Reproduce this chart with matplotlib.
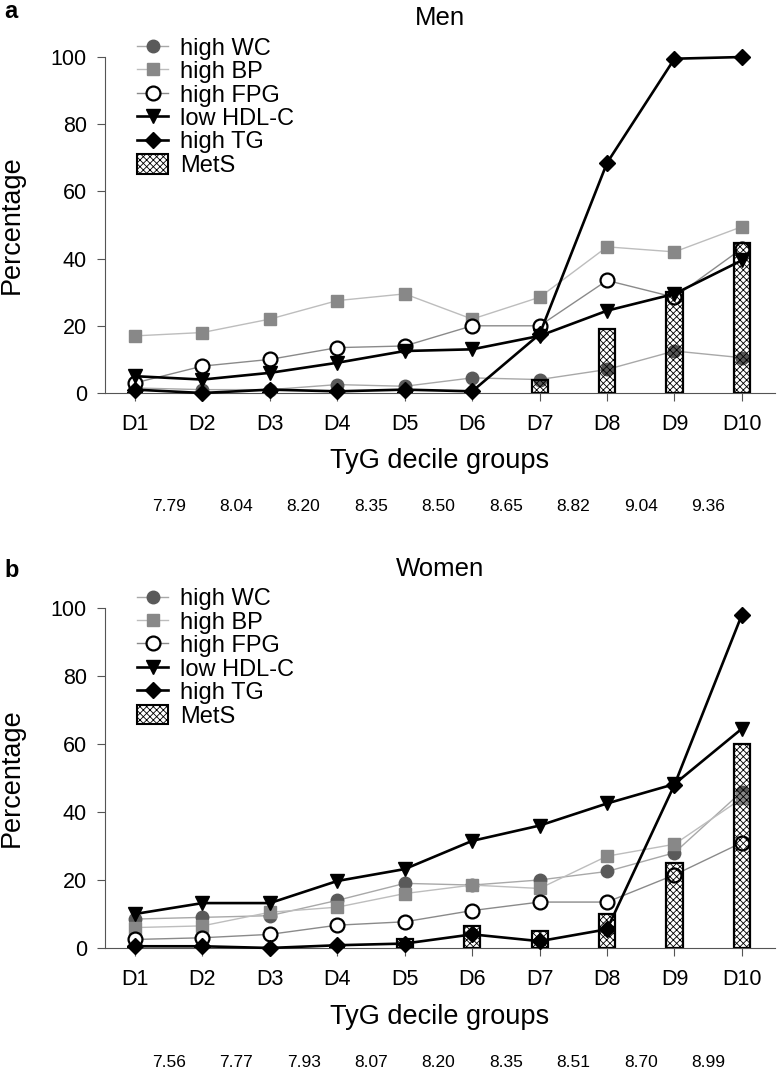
import numpy as np
import matplotlib
matplotlib.use("Agg")
import matplotlib.pyplot as plt
from matplotlib.lines import Line2D
from matplotlib.patches import Patch

plt.rcParams['font.family'] = ['Liberation Sans', 'DejaVu Sans']
plt.rcParams['hatch.linewidth'] = 0.6

deciles = ["D1", "D2", "D3", "D4", "D5", "D6", "D7", "D8", "D9", "D10"]

# Men
men_wc = [1.5, 1, 1, 2.5, 2, 4.5, 4, 7, 12.5, 10.5]
men_bp = [17, 18, 22, 27.5, 29.5, 22, 28.5, 43.5, 42, 49.5]
men_fpg = [3, 8, 10, 13.5, 14, 20, 20, 33.5, 28.5, 43]
men_hdl = [5, 4, 6, 9, 12.5, 13, 17, 24.5, 29.5, 39.5]
men_tg = [1, 0, 1, 0.5, 1, 0.5, 17.5, 68.5, 99.5, 100]
men_mets = [0, 0, 0, 0, 0, 0, 4, 19, 30, 44.5]
men_cuts = ["7.79", "8.04", "8.20", "8.35", "8.50", "8.65", "8.82", "9.04", "9.36"]

# Women
wom_wc = [8.5, 9, 9.5, 14, 19, 18.5, 20, 22.5, 28, 46]
wom_bp = [6, 6.5, 10.5, 12, 16, 18.5, 17.5, 27, 30.5, 44]
wom_fpg = [2.5, 3, 4, 6.7, 7.7, 11, 13.5, 13.5, 21.5, 31]
wom_hdl = [10, 13.2, 13.2, 19.7, 23.2, 31.5, 36, 42.5, 48.2, 64.5]
wom_tg = [0.5, 0.5, 0, 0.8, 1.3, 4, 2, 5.5, 48, 98]
wom_mets = [0, 0, 0, 0, 2.5, 6.5, 5, 10, 25, 60]
wom_cuts = ["7.56", "7.77", "7.93", "8.07", "8.20", "8.35", "8.51", "8.70", "8.99"]

WC_STYLE = dict(color="#a8a8a8", lw=1, marker="o", ms=9, mfc="#5a5a5a", mec="#5a5a5a")
BP_STYLE = dict(color="#bdbdbd", lw=1, marker="s", ms=9, mfc="#888888", mec="#888888")
FPG_STYLE = dict(color="#8a8a8a", lw=1, marker="o", ms=10, mfc="white", mec="black", mew=1.6)
HDL_STYLE = dict(color="black", lw=1.9, marker="v", ms=10, mfc="black", mec="black")
TG_STYLE = dict(color="black", lw=1.9, marker="D", ms=8.5, mfc="black", mec="black")


def draw_panel(ax, wc, bp, fpg, hdl, tg, mets, cuts, title):
    x = np.arange(1, 11)
    ax.plot(x, wc, zorder=3, clip_on=False, **WC_STYLE)
    ax.plot(x, bp, zorder=3, clip_on=False, **BP_STYLE)
    ax.plot(x, fpg, zorder=4, clip_on=False, **FPG_STYLE)
    ax.bar(x, mets, width=0.24, facecolor="none", edgecolor="black",
           hatch="xxxxx", lw=1.6, zorder=5)
    ax.plot(x, hdl, zorder=6, clip_on=False, **HDL_STYLE)
    ax.plot(x, tg, zorder=7, clip_on=False, **TG_STYLE)

    ax.set_xlim(0.555, 10.49)
    ax.set_ylim(0, 100)
    ax.set_yticks(range(0, 101, 20))
    ax.set_xticks(x)
    ax.set_xticklabels(deciles)
    ax.tick_params(axis="both", labelsize=15.5, direction="out", length=6,
                   color="#555555")
    ax.tick_params(axis="x", pad=9)
    ax.tick_params(axis="y", pad=7)
    for s in ["top", "right"]:
        ax.spines[s].set_visible(False)
    for s in ["left", "bottom"]:
        ax.spines[s].set_color("#555555")
    ax.set_ylabel("Percentage", fontsize=19.5)
    ax.yaxis.set_label_coords(-0.12, 0.5)
    ax.set_xlabel("TyG decile groups", fontsize=19.5, va="top")
    ax.xaxis.set_label_coords(0.5, -0.165)
    ax.text(0.5, 1.115, title, transform=ax.transAxes, ha="center",
            va="center", fontsize=18.5)

    for i, c in enumerate(cuts):
        ax.text(i + 1.5, -0.338, c, transform=ax.get_xaxis_transform(),
                ha="center", va="center", fontsize=12.5)

    handles = [
        Line2D([], [], **WC_STYLE),
        Line2D([], [], **BP_STYLE),
        Line2D([], [], **FPG_STYLE),
        Line2D([], [], **HDL_STYLE),
        Line2D([], [], **TG_STYLE),
        Patch(facecolor="white", edgecolor="black", hatch="xxxxx", lw=1.5),
    ]
    labels = ["high WC", "high BP", "high FPG", "low HDL-C", "high TG", "MetS"]
    ax.legend(handles, labels, loc="upper left", bbox_to_anchor=(0.048, 1.06),
              frameon=False, fontsize=17, handlelength=1.3, handletextpad=0.5,
              handleheight=0.9, labelspacing=0.02, borderpad=0, borderaxespad=0)


fig = plt.figure(figsize=(7.79, 10.72), dpi=100)
ax1 = fig.add_axes([0.1348, 0.6334, 0.86, 0.3134])
ax2 = fig.add_axes([0.1348, 0.1157, 0.86, 0.3172])

draw_panel(ax1, men_wc, men_bp, men_fpg, men_hdl, men_tg, men_mets, men_cuts, "Men")
draw_panel(ax2, wom_wc, wom_bp, wom_fpg, wom_hdl, wom_tg, wom_mets, wom_cuts, "Women")

fig.text(0.006, 0.989, "a", fontsize=17, fontweight="bold", va="center")
fig.text(0.006, 0.468, "b", fontsize=17, fontweight="bold", va="center")

fig.savefig("out.png", dpi=100)
